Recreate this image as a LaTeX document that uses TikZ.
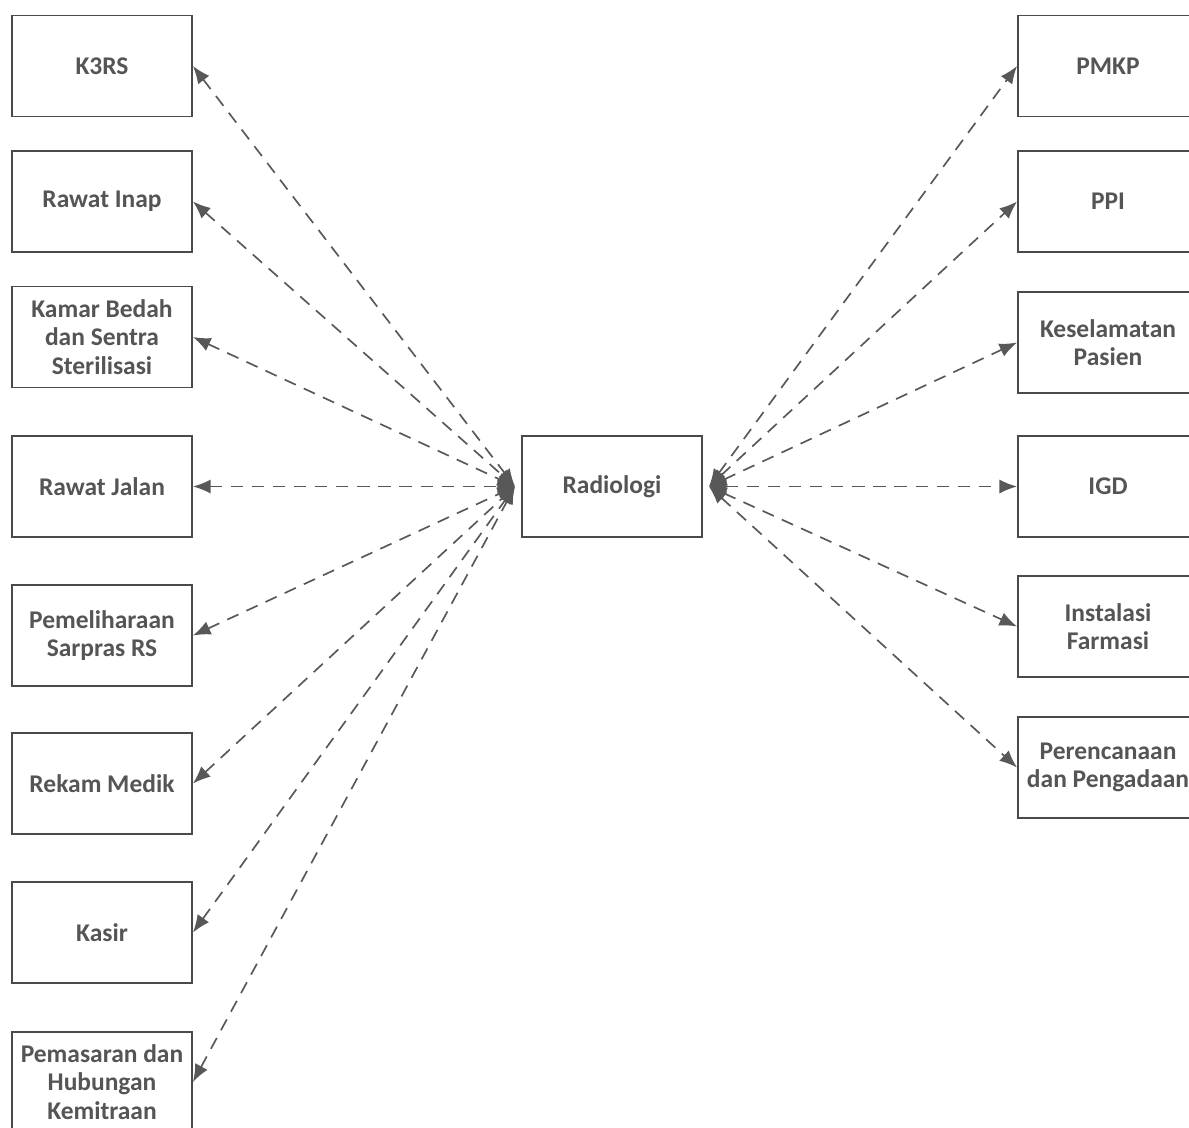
\documentclass[tikz,border=0pt]{standalone}
\usepackage{fontspec}
\setmainfont{Carlito}
\usetikzlibrary{arrows.meta}
\definecolor{boxgray}{HTML}{4A4A4A}
\definecolor{txtgray}{HTML}{555555}
\definecolor{arrgray}{HTML}{585858}
\tikzset{
  unit/.style={draw=boxgray, line width=1.1pt, minimum width=3.6cm, minimum height=2.02cm,
    align=center, text=txtgray, font=\fontsize{14.5}{16.2}\selectfont\bfseries, inner sep=2pt},
  link/.style={arrgray, line width=0.95pt, dash pattern=on 7pt off 5pt,
    {Latex[length=10pt,width=8pt]}-{Latex[length=10pt,width=8pt]}}
}
\begin{document}
\begin{tikzpicture}[x=0.02cm, y=-0.02cm]
    % 1. Bidang gambar
    \clip (0,0) rectangle (1189,1127);
    \fill[white] (0,0) rectangle (1189,1127);

    % 2. Unit tengah
    \node[unit] (rad) at (612,486.5) {Radiologi};
    \coordinate (radL) at (515,486.5);
    \coordinate (radR) at (709,486.5);

    % 3. Unit kiri
    \node[unit] (k3rs)   at (102,66)    {K3RS};
    \node[unit] (inap)   at (102,201.5) {Rawat Inap};
    \node[unit] (bedah)  at (102,337)   {Kamar Bedah\\dan Sentra\\Sterilisasi};
    \node[unit] (jalan)  at (102,486.5) {Rawat Jalan};
    \node[unit] (sarpras) at (102,635.5) {Pemeliharaan\\Sarpras RS};
    \node[unit] (medik)  at (102,783.5) {Rekam Medik};
    \node[unit] (kasir)  at (102,932.5) {Kasir};
    \node[unit] (mitra)  at (102,1082)  {Pemasaran dan\\Hubungan\\Kemitraan};

    % 4. Unit kanan
    \node[unit] (pmkp)   at (1108,66)    {PMKP};
    \node[unit] (ppi)    at (1108,201.5) {PPI};
    \node[unit] (pasien) at (1108,342.5) {Keselamatan\\Pasien};
    \node[unit] (igd)    at (1108,486.5) {IGD};
    \node[unit] (farmasi) at (1108,626.5) {Instalasi\\Farmasi};
    \node[unit] (ada)    at (1108,767.5) {Perencanaan\\dan Pengadaan};

    % 5. Hubungan kiri
    \draw[link] (k3rs.east)    -- (radL);
    \draw[link] (inap.east)    -- (radL);
    \draw[link] (bedah.east)   -- (radL);
    \draw[link] (jalan.east)   -- (radL);
    \draw[link] (sarpras.east) -- (radL);
    \draw[link] (medik.east)   -- (radL);
    \draw[link] (kasir.east)   -- (radL);
    \draw[link] (mitra.east)   -- (radL);

    % 6. Hubungan kanan
    \draw[link] (radR) -- (pmkp.west);
    \draw[link] (radR) -- (ppi.west);
    \draw[link] (radR) -- (pasien.west);
    \draw[link] (radR) -- (igd.west);
    \draw[link] (radR) -- (farmasi.west);
    \draw[link] (radR) -- (ada.west);
\end{tikzpicture}
\end{document}
